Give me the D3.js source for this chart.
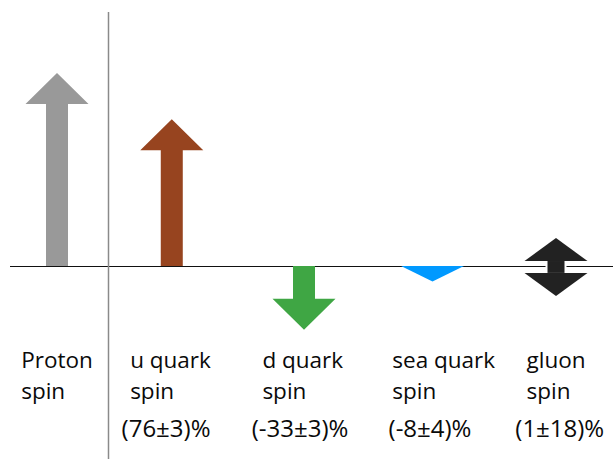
<!DOCTYPE html>
<html>
<head>
<meta charset="utf-8">
<script src="https://cdn.jsdelivr.net/npm/d3@7"></script>
<style>
  body { margin: 0; background: #fff; }
  text { font-family: "Open Sans", sans-serif; font-size: 22.5px; fill: #0a0a0a; }
  text.val { font-size: 24px; }
</style>
</head>
<body>
<div id="canvas"></div>
<script>
// categories and their spin contributions (percent of proton spin)
const names = ["Proton", "u quark", "d quark", "sea quark", "gluon"];
const spins = ["", "(76\u00b13)%", "(-33\u00b13)%", "(-8\u00b14)%", "(1\u00b118)%"];
const slots = [0, 0.92, 1.98, 3.01, 4];
const labelSlots = [0, 0.91, 1.97, 3.1, 4];
const valueSlots = [0, 0.874, 1.948, 2.99, 4.03];
const arrowFrom = [0, 0, 0, 0, -15.5];
const arrowTo = [100, 76, -33, -8, 14.5];
const colors = ["#999999", "#97441f", "#3fa644", "#0099ff", "#222222"];

const width = 613, height = 459;

const svg = d3.select("#canvas")
    .append("svg")
    .attr("width", width)
    .attr("height", height);

const x = d3.scaleLinear().domain([0, 4]).range([57, 556]);
const y = d3.scaleLinear().domain([0, 100]).range([266, 73]);

const shaftW = 22, headW = 63, headH = 31;

const data = names.map((n, i) => ({
    name: n, spin: spins[i], slot: slots[i], lslot: labelSlots[i], vslot: valueSlots[i],
    from: arrowFrom[i], to: arrowTo[i], color: colors[i]
}));

const line = d3.line();

// single arrow from base to tip
function arrowPath(cx, base, tip) {
    const dir = tip < base ? 1 : -1; // 1 = pointing up
    const len = Math.abs(base - tip);
    const hh = Math.min(headH, len);
    const neck = tip + dir * hh;
    const pts = [];
    if (len > headH) {
        pts.push([cx - shaftW / 2, base], [cx - shaftW / 2, neck]);
    }
    pts.push([cx - headW / 2, neck], [cx, tip], [cx + headW / 2, neck]);
    if (len > headH) {
        pts.push([cx + shaftW / 2, neck], [cx + shaftW / 2, base]);
    }
    return line(pts) + "Z";
}

// baseline
svg.append("line")
    .attr("x1", 10).attr("x2", width)
    .attr("y1", y(0) + 0.5).attr("y2", y(0) + 0.5)
    .attr("stroke", "#111")
    .attr("stroke-width", 1);

// divider
svg.append("line")
    .attr("x1", 108.5).attr("x2", 108.5)
    .attr("y1", 12).attr("y2", height)
    .attr("stroke", "#8a8a8a")
    .attr("stroke-width", 1.5);

// single arrows
svg.append("g")
    .selectAll("path")
    .data(data.filter(d => d.from === 0))
    .join("path")
    .attr("d", d => arrowPath(x(d.slot), y(0), y(d.to)))
    .attr("fill", d => d.color);

// gluon double arrow
const g = data[4];
const gx = x(g.slot);
const gh = 23, gw = 19;
const gTop = y(g.to), gBot = y(g.from);
svg.append("rect")
    .attr("x", gx - gw / 2).attr("y", gTop + gh - 1)
    .attr("width", gw).attr("height", gBot - gTop - 2 * gh + 2)
    .attr("fill", g.color)
    .attr("stroke", "#fff")
    .attr("stroke-width", 2);
svg.append("path")
    .attr("d", line([[gx - headW / 2, gTop + gh], [gx, gTop], [gx + headW / 2, gTop + gh]]) + "Z")
    .attr("fill", g.color);
svg.append("path")
    .attr("d", line([[gx - headW / 2, gBot - gh], [gx, gBot], [gx + headW / 2, gBot - gh]]) + "Z")
    .attr("fill", g.color);

// labels
const labels = svg.append("g")
    .selectAll("g")
    .data(data)
    .join("g");

labels.each(function(d) {
    const el = d3.select(this);
    const t = el.append("text")
        .attr("x", x(d.lslot))
        .attr("y", 368)
        .attr("text-anchor", "middle")
        .text(d.name);
    const left = t.node().getBBox().x;
    el.append("text")
        .attr("x", left)
        .attr("y", 399)
        .text("spin");
    if (d.spin) {
        el.append("text")
            .attr("class", "val")
            .attr("x", x(d.vslot))
            .attr("y", 437)
            .attr("text-anchor", "middle")
            .text(d.spin);
    }
});
</script>
</body>
</html>
